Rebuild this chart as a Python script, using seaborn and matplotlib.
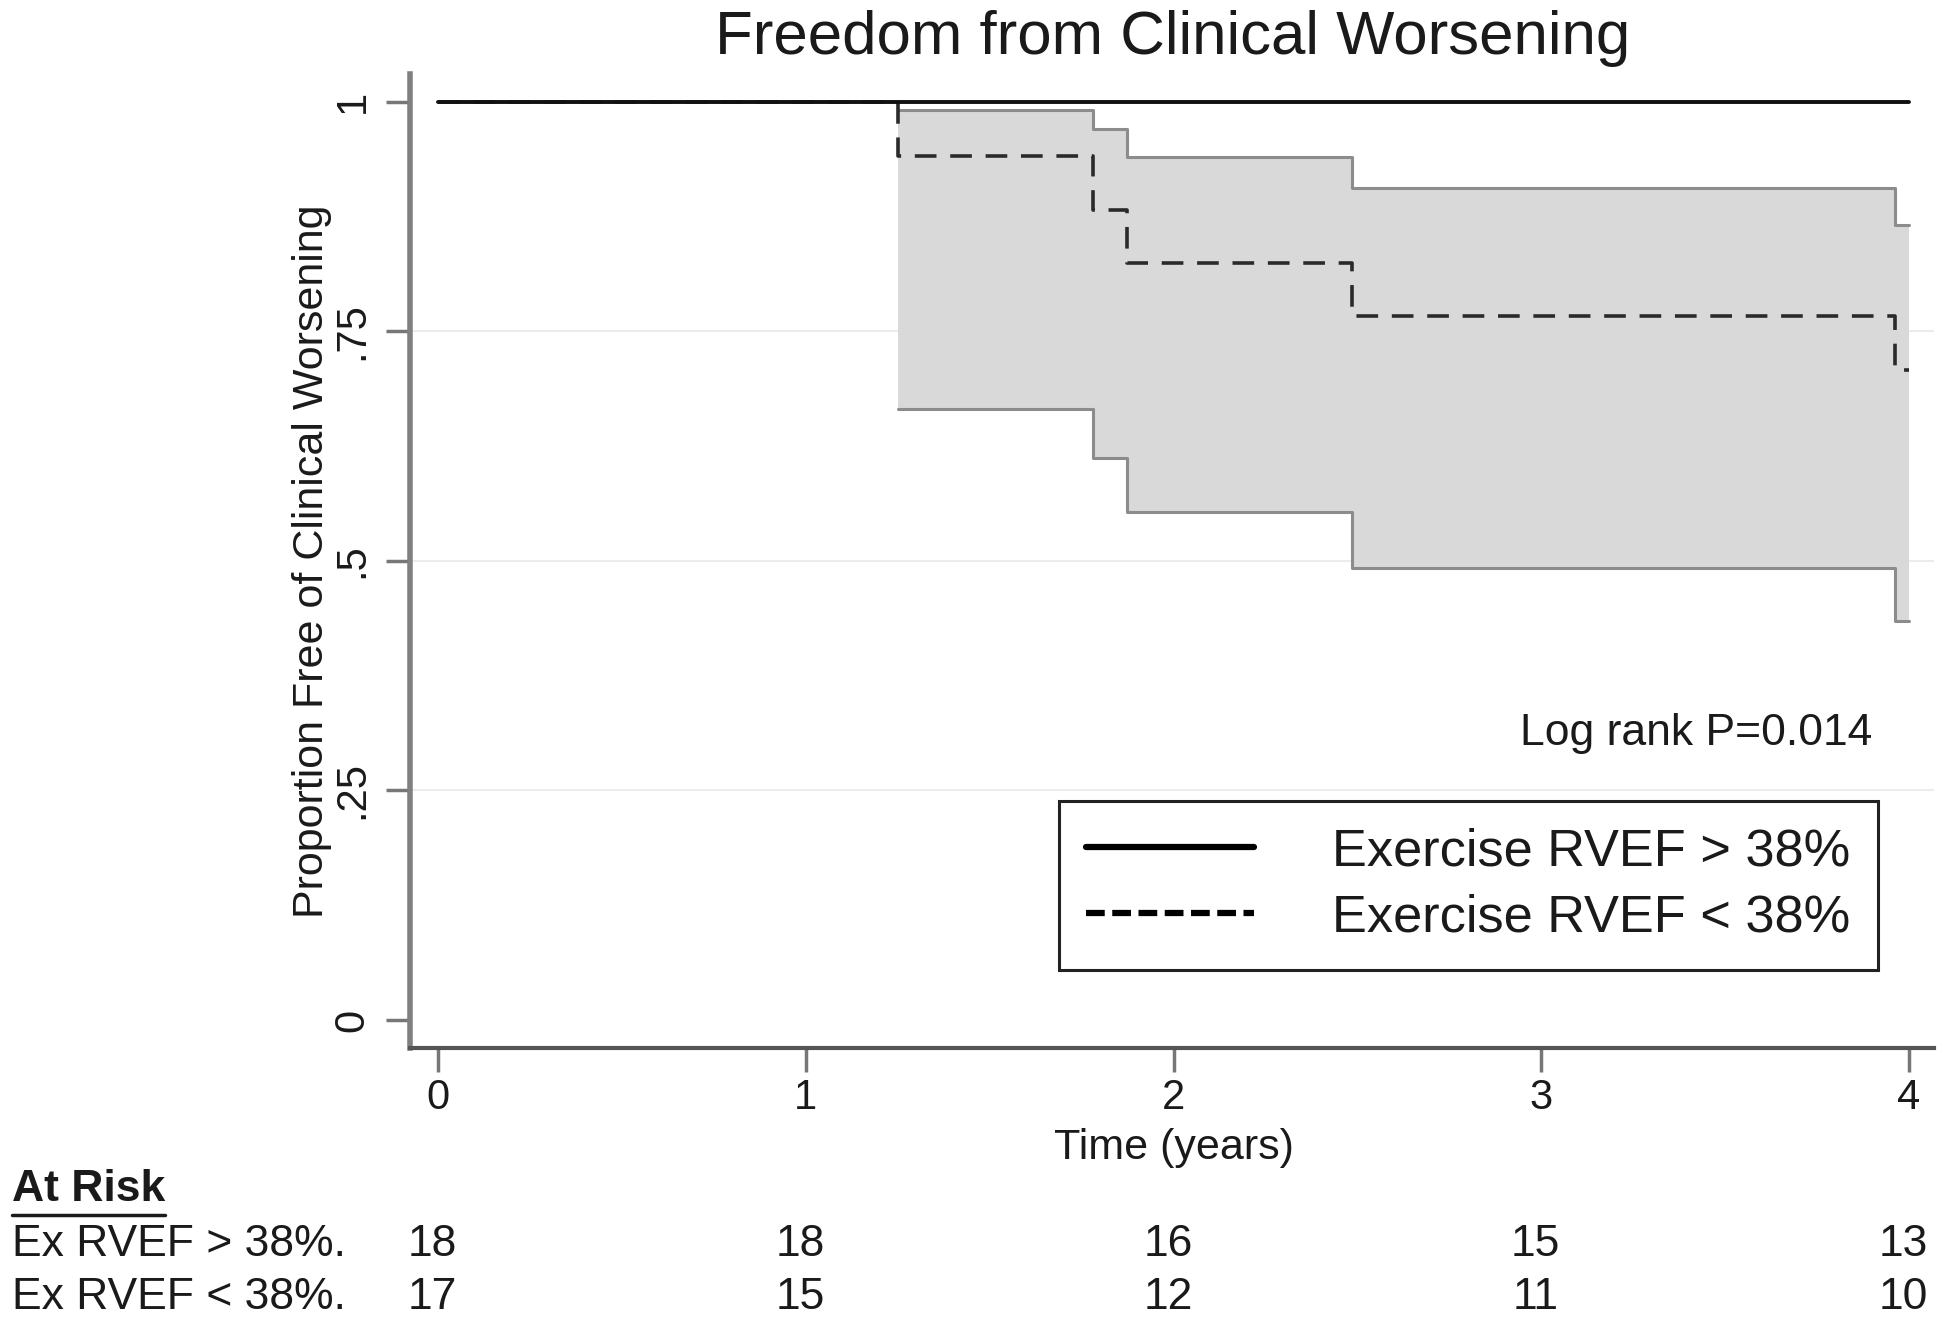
import matplotlib
matplotlib.use("Agg")
import matplotlib.pyplot as plt
from matplotlib.lines import Line2D
import matplotlib.transforms as mtransforms
import seaborn as sns
import pandas as pd

# Kaplan-Meier curves
times_hi = [0, 4.0]
surv_hi = [1.0, 1.0]

times_lo = [0, 1.25, 1.78, 1.873, 2.485, 3.962, 4.0]
surv_lo = [1.0, 0.941, 0.882, 0.825, 0.767, 0.708, 0.708]

# confidence band for the < 38% group
ci_times = [1.25, 1.78, 1.873, 2.485, 3.962, 4.0]
ci_upper = [0.991, 0.970, 0.940, 0.906, 0.866, 0.866]
ci_lower = [0.665, 0.612, 0.553, 0.492, 0.435, 0.435]

# numbers at risk
risk_times = [0, 1, 2, 3, 4]
risk_hi = [18, 18, 16, 15, 13]
risk_lo = [17, 15, 12, 11, 10]
risk_rows = ["Ex RVEF > 38%.", "Ex RVEF < 38%."]

y_ticks = [0, 0.25, 0.5, 0.75, 1]
y_ticklabels = ["0", ".25", ".5", ".75", "1"]
x_ticks = [0, 1, 2, 3, 4]

sns.set_theme(style="white")
plt.rcParams["font.family"] = ["Liberation Sans", "DejaVu Sans"]
txt = "#1a1a1a"

df_hi = pd.DataFrame({"time": times_hi, "surv": surv_hi})
df_lo = pd.DataFrame({"time": times_lo, "surv": surv_lo})
df_ci = pd.DataFrame({"time": ci_times, "upper": ci_upper, "lower": ci_lower})

fig = plt.figure(figsize=(19.5, 13.25), dpi=100)
ax = fig.add_axes([0.2103, 0.2091, 0.7815, 0.7351])

# light grid
for yv in y_ticks[1:-1]:
    ax.axhline(yv, color="#ececec", lw=1.5, zorder=0)

# CI band
ax.fill_between(df_ci["time"], df_ci["lower"], df_ci["upper"], step="post",
                color="#d9d9d9", lw=0, zorder=1)
sns.lineplot(data=df_ci, x="time", y="upper", ax=ax, estimator=None,
             drawstyle="steps-post", color="#8c8c8c", lw=2.2, zorder=2)
sns.lineplot(data=df_ci, x="time", y="lower", ax=ax, estimator=None,
             drawstyle="steps-post", color="#8c8c8c", lw=2.2, zorder=2)

# survival curves
sns.lineplot(data=df_lo, x="time", y="surv", ax=ax, estimator=None,
             drawstyle="steps-post", color="#2a2a2a", lw=2.6,
             linestyle=(0, (6, 3.8)), zorder=3)
sns.lineplot(data=df_hi, x="time", y="surv", ax=ax, estimator=None,
             drawstyle="steps-post", color="#111111", lw=2.8, zorder=4)

ax.set_xlim(-0.0761, 4.068)
ax.set_ylim(-0.0305, 1.0305)
ax.set_xticks(x_ticks)
ax.set_xticklabels([str(t) for t in x_ticks])
ax.set_yticks(y_ticks)
ax.set_yticklabels(y_ticklabels, rotation=90, va="center")
ax.tick_params(axis="both", bottom=True, left=True, length=17, width=2.5,
               color="#777777", labelsize=30, labelcolor=txt)
ax.tick_params(axis="x", pad=5)
ax.tick_params(axis="y", pad=10)

for side in ["top", "right"]:
    ax.spines[side].set_visible(False)
ax.spines["left"].set_color("#808080")
ax.spines["left"].set_linewidth(4)
ax.spines["bottom"].set_color("#555555")
ax.spines["bottom"].set_linewidth(3)

ax.set_xlabel("Time (years)", fontsize=31, color=txt)
ax.xaxis.set_label_coords(0.501, -0.082)
ax.set_ylabel("Proportion Free of Clinical Worsening", fontsize=31, color=txt)
ax.yaxis.set_label_coords(-0.051, 0.5)

ax.text(3.899, 0.3115, "Log rank P=0.014", fontsize=32, color=txt,
        ha="right", va="center")

handles = [Line2D([], [], color="black", lw=4.5),
           Line2D([], [], color="black", lw=4.5, linestyle=(0, (3, 1.2)))]
leg = ax.legend(handles, ["Exercise RVEF > 38%", "Exercise RVEF < 38%"],
                loc="upper right", bbox_to_anchor=(0.963, 0.254),
                borderaxespad=0, fontsize=37.7, handlelength=3.2,
                handletextpad=1.5, labelspacing=0.32, borderpad=0.52,
                frameon=True, fancybox=False, framealpha=1)
leg.get_frame().set_edgecolor("#222222")
leg.get_frame().set_linewidth(2.2)
for t in leg.get_texts():
    t.set_color(txt)

fig.text(0.6015, 0.971, "Freedom from Clinical Worsening", fontsize=44.5,
         color=txt, ha="center", va="center")

# at-risk table
trans = mtransforms.blended_transform_factory(ax.transData, fig.transFigure)
head = fig.text(0.006, 0.1026, "At Risk", fontsize=32, fontweight="bold",
                color=txt, ha="left", va="center")
row_y = [0.0605, 0.0205]
for name, counts, yy in zip(risk_rows, [risk_hi, risk_lo], row_y):
    fig.text(0.006, yy, name, fontsize=32, color=txt, ha="left", va="center")
    for t, n in zip(risk_times, counts):
        ax.text(t - 0.015, yy, str(n), transform=trans, fontsize=32,
                color=txt, ha="center", va="center")

fig.canvas.draw()
bb = head.get_window_extent().transformed(fig.transFigure.inverted())
fig.add_artist(Line2D([bb.x0, bb.x1], [bb.y0 - 0.004, bb.y0 - 0.004],
                      transform=fig.transFigure, color=txt, lw=2.5))

fig.savefig("out.png", dpi=100, facecolor="white")
